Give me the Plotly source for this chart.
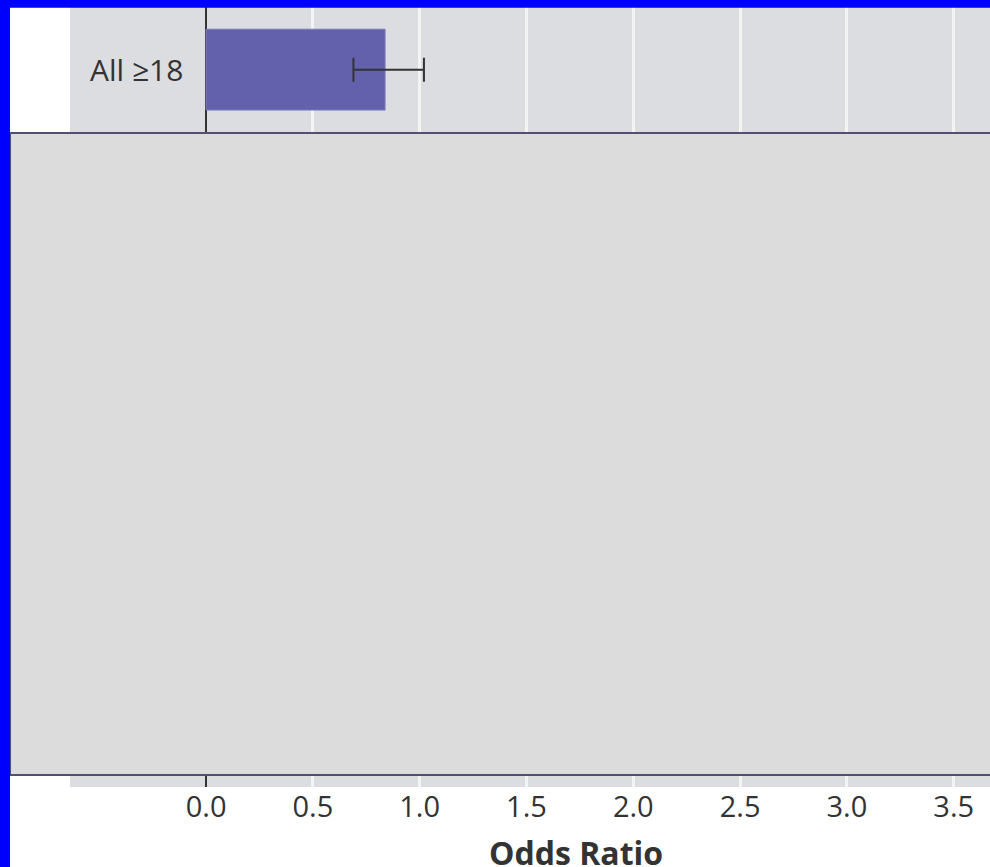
import plotly.graph_objects as go

categories = ["All ≥18"]
odds_ratio = [0.838]
ci_low = [0.69]
ci_high = [1.02]
tick_values = [0.0, 0.5, 1.0, 1.5, 2.0, 2.5, 3.0, 3.5]
tick_labels = ["0.0", "0.5", "1.0", "1.5", "2.0", "2.5", "3.0", "3.5"]

err_plus = [h - v for h, v in zip(ci_high, odds_ratio)]
err_minus = [v - l for v, l in zip(odds_ratio, ci_low)]

fig = go.Figure()
fig.add_trace(go.Bar(
    x=odds_ratio, y=categories, orientation="h", width=0.8,
    marker=dict(color="#6461ac", line=dict(color="#7c7aba", width=1)),
    error_x=dict(type="data", array=err_plus, arrayminus=err_minus,
                 color="#333333", thickness=2, width=12),
    showlegend=False,
))

for c in categories:
    fig.add_annotation(x=-0.328, y=c, xref="x", yref="y", text=c, showarrow=False,
                       font=dict(family="Open Sans", size=30, color="#333333"))

fig.add_annotation(x=1.73, xref="x", y=-0.084, yref="paper", text="<b>Odds Ratio</b>",
                   showarrow=False, yanchor="middle",
                   font=dict(family="Open Sans", size=32, color="#333333"))

# overlay panel
fig.add_shape(type="rect", xref="paper", yref="paper", x0=-0.0652, x1=1.02,
              y0=0.0154, y1=0.8385, fillcolor="#dcdcdc",
              line=dict(color="#505070", width=2), layer="above")
# blue frame
fig.add_shape(type="rect", xref="paper", yref="paper", x0=-0.08, x1=-0.0652,
              y0=-0.2, y1=1.05, fillcolor="#0000ff", line=dict(width=0), layer="above")
fig.add_shape(type="rect", xref="paper", yref="paper", x0=-0.08, x1=1.05,
              y0=0.999, y1=1.05, fillcolor="#0000ff", line=dict(width=0), layer="above")

fig.update_layout(
    width=990, height=867,
    margin=dict(l=70, r=0, t=7, b=80),
    paper_bgcolor="white", plot_bgcolor="#dcdde0",
    font=dict(family="Open Sans", color="#333333"),
    xaxis=dict(range=[-0.637, 3.67], tickvals=tick_values, ticktext=tick_labels,
               showgrid=True, gridcolor="#f4f4f4", gridwidth=3,
               zeroline=True, zerolinecolor="#333333", zerolinewidth=2,
               tickfont=dict(size=29, color="#333333"), ticks="", showline=False),
    yaxis=dict(range=[7.1, -0.62], showticklabels=False, showgrid=False,
               zeroline=False, ticks=""),
    bargap=0.2,
)

fig.write_html("out.html", config={"displayModeBar": False},
               post_script="document.body.style.margin='0';document.body.style.overflow='hidden';")
